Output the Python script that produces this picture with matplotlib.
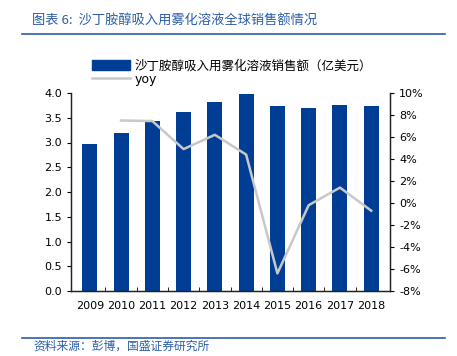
import matplotlib
matplotlib.use("Agg")
import matplotlib.pyplot as plt
from matplotlib.ticker import FuncFormatter
from matplotlib.lines import Line2D
from matplotlib.patches import Patch

plt.rcParams['font.family'] = ['Noto Sans CJK SC', 'DejaVu Sans']

# data
years = ['2009', '2010', '2011', '2012', '2013', '2014', '2015', '2016', '2017', '2018']
sales = [2.97, 3.20, 3.43, 3.62, 3.82, 3.98, 3.74, 3.70, 3.76, 3.74]
yoy_years = years[1:]
yoy = [7.5, 7.45, 4.9, 6.2, 4.4, -6.4, -0.2, 1.4, -0.7]

bar_color = '#003E96'
line_color = '#C8C8C8'
title_color = '#2A5CA8'
tick_font = ['DejaVu Sans']

fig = plt.figure(figsize=(4.57, 3.56), dpi=100)
ax1 = fig.add_axes([71/457, 1 - 291/356, (390-71)/457, (291-93)/356])
ax2 = ax1.twinx()

x = list(range(len(years)))
ax1.bar(x, sales, width=0.48, color=bar_color, zorder=2)
ax1.set_ylim(0, 4.0)
ax1.set_yticks([i * 0.5 for i in range(9)])
ax1.yaxis.set_major_formatter(FuncFormatter(lambda v, p: f'{v:.1f}'))
ax1.set_xlim(-0.6, len(years) - 0.4)
ax1.set_xticks(x)
ax1.set_xticklabels(years)
ax1.set_xticks([i + 0.5 for i in x[:-1]], minor=True)
ax1.tick_params(axis='x', which='major', length=0, pad=7)
ax1.tick_params(axis='x', which='minor', length=3, direction='in')
ax1.tick_params(axis='y', length=3)

yoy_x = [years.index(y) for y in yoy_years]
ax2.plot(yoy_x, yoy, color=line_color, lw=1.8, zorder=3)
ax2.set_ylim(-8, 10)
ax2.set_yticks(range(-8, 11, 2))
ax2.yaxis.set_major_formatter(FuncFormatter(lambda v, p: f'{int(v)}%'))
ax2.tick_params(axis='y', length=3)

for a in (ax1, ax2):
    a.spines['top'].set_visible(False)
    for s in ('left', 'right', 'bottom'):
        a.spines[s].set_color('#222222')
        a.spines[s].set_linewidth(0.9)
    for lab in a.get_xticklabels() + a.get_yticklabels():
        lab.set_family(tick_font)
        lab.set_fontsize(8)

handles = [Patch(color=bar_color), Line2D([0], [0], color=line_color, lw=1.8)]
labels = ['沙丁胺醇吸入用雾化溶液销售额（亿美元）', 'yoy']
leg = fig.legend(handles, labels, loc='upper left', bbox_to_anchor=(86/457, 1 - 53/356),
                 frameon=False, fontsize=9, handlelength=3.0, handleheight=0.9,
                 labelspacing=0.05, borderpad=0, handletextpad=0.4)
leg.get_texts()[1].set_family(tick_font)

# header and footer
fig.text(32/457, 1 - 20/356, '图表 6:  沙丁胺醇吸入用雾化溶液全球销售额情况', color=title_color,
         fontsize=9.5, style='italic', va='center')
fig.add_artist(Line2D([22/457, 445/457], [1 - 34/356, 1 - 34/356], color=title_color, lw=1.2))
fig.add_artist(Line2D([22/457, 445/457], [1 - 338/356, 1 - 338/356], color=title_color, lw=1.2))
fig.text(33/457, 1 - 346/356, '资料来源：彭博，国盛证券研究所', color=title_color,
         fontsize=8.5, style='italic', va='center')

fig.savefig('out.png', dpi=100)
